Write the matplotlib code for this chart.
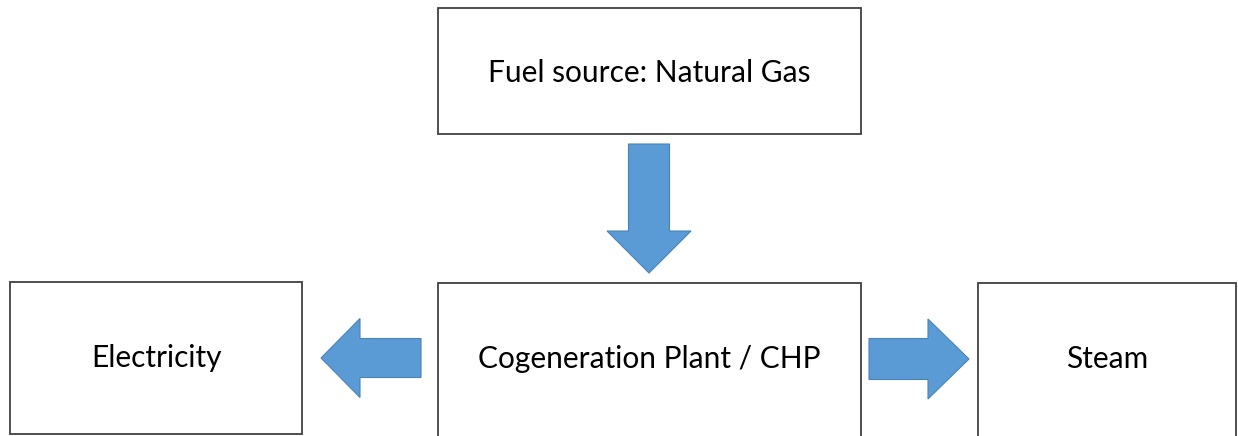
import matplotlib.pyplot as plt
from matplotlib.patches import Rectangle, Polygon

# boxes: label, left, top, width, height (pixels)
labels = ["Fuel source: Natural Gas", "Cogeneration Plant / CHP", "Electricity", "Steam"]
box_x = [438, 438, 10, 978]
box_y = [8, 283, 282, 283]
box_w = [423, 423, 292, 258]
box_h = [126, 160, 152, 160]
text_y = [73, 359, 358, 359]

# block arrows: direction, tip x, tip y
arrow_dir = ["down", "left", "right"]
arrow_tip = [(649, 273), (321, 358), (969, 359)]

ARROW_COL = "#5b9bd5"
ARROW_EDGE = "#4a82b8"

fig = plt.figure(figsize=(12.38, 4.36), dpi=100)
ax = fig.add_axes([0, 0, 1, 1])
ax.set_xlim(0, 1238)
ax.set_ylim(436, 0)
ax.axis("off")

for lab, x, y, w, h, ty in zip(labels, box_x, box_y, box_w, box_h, text_y):
    ax.add_patch(Rectangle((x, y), w, h, facecolor="white", edgecolor="#404040", lw=1.3))
    ax.text(x + w / 2, ty, lab, ha="center", va="center", fontsize=21.5,
            family="Lato", color="black")


def block_arrow(direction, tx, ty, shaft_len, shaft_w, head_len, head_w):
    if direction == "down":
        pts = [(tx - shaft_w / 2, ty - head_len - shaft_len), (tx + shaft_w / 2, ty - head_len - shaft_len),
               (tx + shaft_w / 2, ty - head_len), (tx + head_w / 2, ty - head_len), (tx, ty),
               (tx - head_w / 2, ty - head_len), (tx - shaft_w / 2, ty - head_len)]
    elif direction == "left":
        pts = [(tx + head_len + shaft_len, ty - shaft_w / 2), (tx + head_len + shaft_len, ty + shaft_w / 2),
               (tx + head_len, ty + shaft_w / 2), (tx + head_len, ty + head_w / 2), (tx, ty),
               (tx + head_len, ty - head_w / 2), (tx + head_len, ty - shaft_w / 2)]
    else:
        pts = [(tx - head_len - shaft_len, ty - shaft_w / 2), (tx - head_len - shaft_len, ty + shaft_w / 2),
               (tx - head_len, ty + shaft_w / 2), (tx - head_len, ty + head_w / 2), (tx, ty),
               (tx - head_len, ty - head_w / 2), (tx - head_len, ty - shaft_w / 2)]
    ax.add_patch(Polygon(pts, closed=True, facecolor=ARROW_COL, edgecolor=ARROW_EDGE, lw=0.8))


block_arrow(arrow_dir[0], *arrow_tip[0], shaft_len=87, shaft_w=41, head_len=42, head_w=84)
block_arrow(arrow_dir[1], *arrow_tip[1], shaft_len=61, shaft_w=39, head_len=39, head_w=79)
block_arrow(arrow_dir[2], *arrow_tip[2], shaft_len=59, shaft_w=41, head_len=41, head_w=80)

fig.savefig("out.png", dpi=100)
